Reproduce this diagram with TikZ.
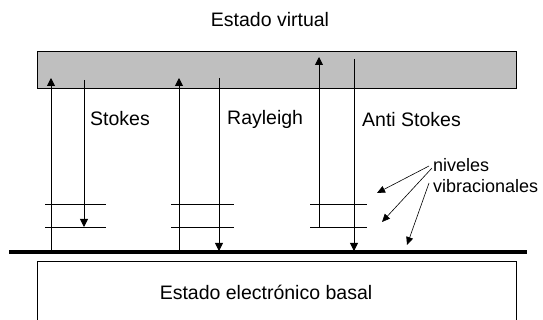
\documentclass[tikz,border=0pt]{standalone}
\usepackage{fontspec}
\setmainfont{Liberation Sans}
\usetikzlibrary{positioning, arrows.meta}

\begin{document}
\begin{tikzpicture}[x=1pt, y=-1pt,
  every node/.style={font=\fontsize{19.5}{22}\selectfont, inner sep=0pt},
  vbox/.style={draw, line width=1pt, fill=black!25, minimum width=479pt,
    minimum height=37pt},
  lvl/.style={line width=0.7pt},
  arr/.style={-{Triangle[length=8pt, width=8pt]}, line width=0.9pt},
  note/.style={-{Triangle[length=8pt, width=7pt]}, line width=0.6pt},
  side/.style={anchor=west, font=\fontsize{18}{20}\selectfont}
]
  \useasboundingbox (0,0) rectangle (543,320);

  % Virtual state
  \node[vbox] (virt) at (276.5,70.5) {};
  \node (virtlbl) at (270,20) {Estado virtual};

  % Ground state
  \coordinate (gl) at (9,252);
  \coordinate (gr) at (527,252);
  \draw[line width=3.8pt] (gl) -- (gr);
  \draw[line width=0.9pt] (37,325) |- (516,261) -- (516,325);
  \node (basal) at (266,292) {Estado electrónico basal};

  % Vibrational levels
  \foreach \xa/\xb in {45/106, 171/234, 310/367} {
    \draw[lvl] (\xa,204) -- (\xb,204);
    \draw[lvl] (\xa,227) -- (\xb,227);
  }

  % Stokes
  \coordinate (s1) at (51,252);  \coordinate (s2) at (51,78);
  \coordinate (s3) at (84,80);   \coordinate (s4) at (84,227);
  \draw[arr] (s1) -- (s2);
  \draw[arr] (s3) -- (s4);
  \node[anchor=west] (stokes) at (90,119) {Stokes};

  % Rayleigh
  \coordinate (r1) at (179,252); \coordinate (r2) at (179,78);
  \coordinate (r3) at (219,78);  \coordinate (r4) at (219,251);
  \draw[arr] (r1) -- (r2);
  \draw[arr] (r3) -- (r4);
  \node[anchor=west] (rayleigh) at (227,119) {Rayleigh};

  % Anti Stokes
  \coordinate (a1) at (319,227); \coordinate (a2) at (319,57);
  \coordinate (a3) at (354,59);  \coordinate (a4) at (354,251);
  \draw[arr] (a1) -- (a2);
  \draw[arr] (a3) -- (a4);
  \node[anchor=west] (anti) at (362,120) {Anti Stokes};

  % Labels for the levels
  \node[side] (niv) at (433,165) {niveles};
  \node[side] (vib) at (433,186) {vibracionales};
  \coordinate (n1) at (377,193);
  \coordinate (n2) at (382,222);
  \coordinate (n3) at (407,245);
  \draw[note] (niv.west) ++(-4,1) -- (n1);
  \draw[note] (niv.west) ++(-1,3) -- (n2);
  \draw[note] (vib.west) ++(-4,-3) -- (n3);
\end{tikzpicture}
\end{document}
